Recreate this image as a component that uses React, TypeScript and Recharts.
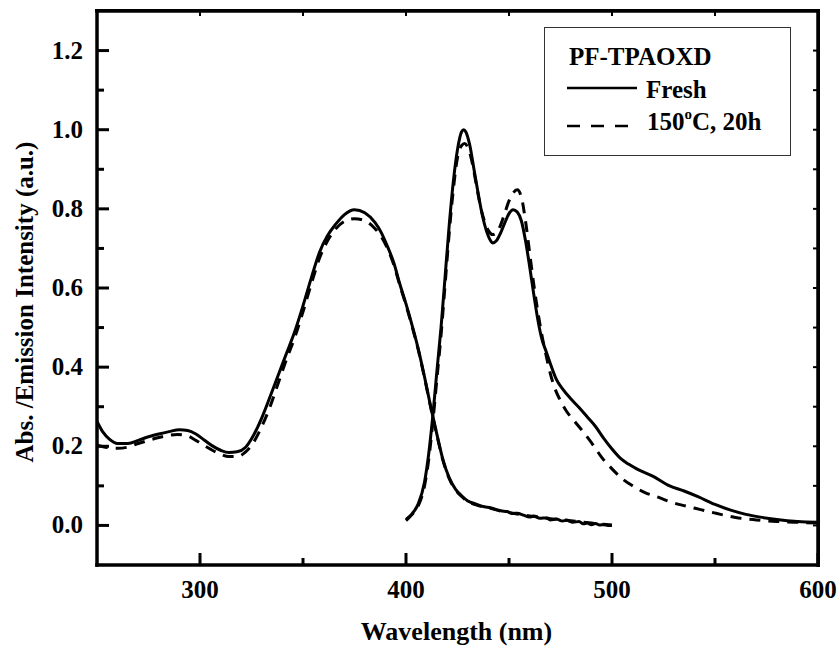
import { LineChart, Line, XAxis, YAxis } from 'recharts'

const FONT = '"Liberation Serif", "Times New Roman", serif'

// absorption, fresh film
const absFreshWl = [250, 253, 256, 260, 265, 270, 275, 280, 285, 290, 294, 298, 302, 306, 310, 314, 318, 322, 326, 330, 334, 338, 342, 346, 350, 354, 358, 362, 366, 370, 375, 380, 385, 388, 391, 394, 397, 400, 403, 406, 409, 412, 415, 418, 421, 424, 427, 430, 434, 438, 441, 444, 446, 449, 452, 454, 457, 460, 462, 465, 468, 470, 473, 476, 478, 481, 484, 486, 488, 490, 492, 494, 496, 498, 500]
const absFresh = [0.263, 0.235, 0.218, 0.207, 0.207, 0.215, 0.224, 0.231, 0.237, 0.242, 0.240, 0.231, 0.216, 0.201, 0.19, 0.184, 0.186, 0.197, 0.228, 0.272, 0.325, 0.38, 0.435, 0.49, 0.555, 0.625, 0.69, 0.733, 0.762, 0.785, 0.798, 0.79, 0.765, 0.74, 0.705, 0.665, 0.61, 0.56, 0.505, 0.445, 0.375, 0.3, 0.23, 0.165, 0.12, 0.092, 0.075, 0.062, 0.054, 0.047, 0.045, 0.04, 0.037, 0.035, 0.03, 0.031, 0.026, 0.021, 0.024, 0.018, 0.019, 0.014, 0.016, 0.011, 0.013, 0.008, 0.01, 0.004, 0.006, 0.002, 0.005, 0.001, 0.002, 0.0, 0.0]

// absorption, 150°C 20h
const absAgedWl = [250, 255, 260, 265, 270, 275, 280, 285, 289, 294, 298, 302, 306, 310, 314, 318, 322, 326, 330, 334, 338, 342, 346, 350, 354, 358, 362, 366, 370, 375, 380, 385, 388, 391, 394, 397, 400, 403, 406, 409, 412, 415, 418, 421, 424, 427, 430, 434, 438, 442, 446, 450, 455, 460, 465, 470, 475, 480, 485, 490, 495, 500]
const absAged = [0.203, 0.197, 0.195, 0.198, 0.207, 0.215, 0.222, 0.228, 0.23, 0.226, 0.215, 0.202, 0.19, 0.18, 0.174, 0.174, 0.185, 0.21, 0.25, 0.3, 0.36, 0.42, 0.475, 0.54, 0.61, 0.675, 0.72, 0.75, 0.768, 0.775, 0.77, 0.75, 0.73, 0.7, 0.66, 0.607, 0.557, 0.502, 0.443, 0.373, 0.298, 0.228, 0.163, 0.118, 0.09, 0.073, 0.06, 0.052, 0.046, 0.042, 0.036, 0.033, 0.028, 0.024, 0.021, 0.017, 0.015, 0.012, 0.009, 0.006, 0.003, 0.001]

// emission, fresh film
const emFreshWl = [400, 403, 406, 409, 411, 413, 415, 417, 419, 421, 423, 425, 427, 428, 429, 431, 433, 435, 437, 439, 441, 442, 444, 446, 448, 450, 452, 454, 456, 458, 460, 462, 464, 466, 468, 470, 473, 476, 480, 484, 488, 492, 496, 500, 504, 508, 512, 520, 528, 535, 542, 550, 558, 565, 572, 580, 590, 600]
const emFresh = [0.015, 0.03, 0.055, 0.11, 0.18, 0.276, 0.39, 0.5, 0.63, 0.76, 0.87, 0.95, 0.995, 1.0, 0.995, 0.96, 0.9, 0.84, 0.785, 0.745, 0.72, 0.714, 0.72, 0.74, 0.765, 0.788, 0.798, 0.792, 0.77, 0.72, 0.655, 0.585, 0.52, 0.47, 0.44, 0.41, 0.369, 0.345, 0.32, 0.298, 0.274, 0.25, 0.22, 0.193, 0.17, 0.155, 0.143, 0.124, 0.1, 0.087, 0.072, 0.053, 0.038, 0.028, 0.021, 0.015, 0.01, 0.008]

// emission, 150°C 20h
const emAgedWl = [400, 403, 406, 409, 411, 413, 415, 417, 419, 421, 423, 425, 427, 428.5, 430, 432, 434, 436, 438, 440, 442, 444, 446, 448, 450, 452, 454, 456, 458, 460, 462, 464, 466, 468, 470, 472, 475, 478, 482, 487, 491, 495, 500, 505, 510, 516, 522, 528, 535, 543, 551, 560, 570, 580, 592, 600]
const emAged = [0.012, 0.028, 0.05, 0.1, 0.165, 0.26, 0.37, 0.48, 0.61, 0.74, 0.85, 0.93, 0.96, 0.965, 0.955, 0.92, 0.865, 0.81, 0.77, 0.745, 0.735, 0.74, 0.76, 0.79, 0.82, 0.84, 0.848, 0.83, 0.77, 0.69, 0.61, 0.54, 0.48, 0.43, 0.385, 0.35, 0.315, 0.288, 0.262, 0.23, 0.202, 0.172, 0.143, 0.118, 0.1, 0.083, 0.072, 0.06, 0.05, 0.04, 0.03, 0.02, 0.014, 0.01, 0.0075, 0.006]

const xDomain = [250, 600]
const yDomain = [-0.1, 1.3]
const xMajor = [300, 400, 500, 600]
const xBottomTicks = [300, 350, 400, 450, 500, 550, 600]
const xTopTicks = [300, 350, 400, 450, 500, 550]
const yTicks = [0, 0.1, 0.2, 0.3, 0.4, 0.5, 0.6, 0.7, 0.8, 0.9, 1.0, 1.1, 1.2]

const legendTitle = 'PF-TPAOXD'
const xTitle = 'Wavelength (nm)'
const yTitle = 'Abs. /Emission Intensity (a.u.)'

// plot box
const W = 840, H = 653
const M = { top: 11, right: 22, bottom: 0, left: 0 }
const Y_AXIS_W = 97, X_AXIS_H = 88
const PL = M.left + Y_AXIS_W, PR = W - M.right, PT = M.top, PB = H - X_AXIS_H

const zip = (xs: number[], ys: number[]) => xs.map((x, i) => ({ x, y: ys[i] }))

const textStyle = { fontFamily: FONT, fontWeight: 700, fill: '#000' }
const frame = { stroke: '#000', strokeWidth: 3.5, strokeLinecap: 'square' as const }

const BottomTick = ({ x, y, payload }: any) => {
  const major = xMajor.includes(payload.value)
  const base = y - 33
  return (
    <g>
      <line x1={x} x2={x} y1={base} y2={base - (major ? 12 : 7)} stroke="#000" strokeWidth={3} />
      {major && (
        <text x={x} y={y} textAnchor="middle" fontSize={25} style={textStyle}>{payload.value}</text>
      )}
    </g>
  )
}

const LeftTick = ({ x, y, payload }: any) => {
  const major = Math.round(payload.value * 10) % 2 === 0
  const base = x + 14
  return (
    <g>
      <line x1={base} x2={base + (major ? 12 : 7)} y1={y} y2={y} stroke="#000" strokeWidth={3} />
      {major && (
        <text x={x} y={y + 8} textAnchor="end" fontSize={25} style={textStyle}>{payload.value.toFixed(1)}</text>
      )}
    </g>
  )
}

const XTitle = ({ viewBox }: any) => (
  <text x={viewBox.x + viewBox.width / 2 - 1} y={viewBox.y + 75} textAnchor="middle" fontSize={26} style={textStyle}>
    {xTitle}
  </text>
)

const YTitle = ({ viewBox }: any) => {
  const cx = viewBox.x + 33
  const cy = viewBox.y + viewBox.height / 2 + 14
  return (
    <text x={cx} y={cy} transform={`rotate(-90 ${cx} ${cy})`} textAnchor="middle" fontSize={25} style={textStyle}>
      {yTitle}
    </text>
  )
}

// top and right frame edges with their short inward ticks
const FrameTopRight = () => {
  const sx = (v: number) => PL + ((v - xDomain[0]) / (xDomain[1] - xDomain[0])) * (PR - PL)
  const sy = (v: number) => PT + ((yDomain[1] - v) / (yDomain[1] - yDomain[0])) * (PB - PT)
  return (
    <>
      <div
        style={{
          position: 'absolute',
          left: PL - 2,
          top: PT - 2,
          width: PR - PL + 4,
          height: PB - PT + 4,
          boxSizing: 'border-box',
          borderTop: '3.5px solid #000',
          borderRight: '3.5px solid #000',
          pointerEvents: 'none',
          zIndex: 10,
        }}
      />
      <svg width={W} height={H} style={{ position: 'absolute', left: 0, top: 0, pointerEvents: 'none', zIndex: 11 }}>
        <line x1={PL} x2={PR} y1={PT} y2={PT} {...frame} />
        <line x1={PR} x2={PR} y1={PT} y2={PB} {...frame} />
        {xTopTicks.map((v) => (
          <line key={`t${v}`} x1={sx(v)} x2={sx(v)} y1={PT} y2={PT + 5} stroke="#000" strokeWidth={2} />
        ))}
        {yTicks.map((v) => (
          <line key={`r${v}`} x1={PR} x2={PR - 5} y1={sy(v)} y2={sy(v)} stroke="#000" strokeWidth={2} />
        ))}
      </svg>
    </>
  )
}

const LegendBox = () => (
  <svg width={248} height={130} style={{ position: 'absolute', left: 544, top: 27, display: 'block', zIndex: 12 }}>
    <rect x={0.5} y={0.5} width={246} height={128} fill="#fff" stroke="#333" strokeWidth={1} />
    <text x={25} y={38} fontSize={25} style={textStyle}>{legendTitle}</text>
    <line x1={23} x2={93} y1={61} y2={61} stroke="#000" strokeWidth={2.5} />
    <text x={102} y={71} fontSize={25} style={textStyle}>Fresh</text>
    <line x1={23} x2={84} y1={99} y2={99} stroke="#000" strokeWidth={2.5} strokeDasharray="13 11" />
    <text x={103} y={103} fontSize={25} style={textStyle}>
      150<tspan fontSize={15} dy={-11}>o</tspan><tspan dy={11}>C, 20h</tspan>
    </text>
  </svg>
)

const lineProps = { dataKey: 'y', type: 'monotone' as const, stroke: '#000', strokeWidth: 3, dot: false, isAnimationActive: false }

export default function App() {
  return (
    <div style={{ position: 'absolute', left: 0, top: 0, width: W, height: H, background: '#fff' }}>
      <LineChart width={W} height={H} margin={M}>
        <XAxis
          dataKey="x"
          type="number"
          domain={xDomain}
          allowDataOverflow
          ticks={xBottomTicks}
          interval={0}
          height={X_AXIS_H}
          tickSize={0}
          tickMargin={33}
          tickLine={false}
          tick={<BottomTick />}
          axisLine={frame}
          label={<XTitle />}
        />
        <YAxis
          type="number"
          domain={yDomain}
          allowDataOverflow
          ticks={yTicks}
          interval={0}
          width={Y_AXIS_W}
          tickSize={0}
          tickMargin={14}
          tickLine={false}
          tick={<LeftTick />}
          axisLine={frame}
          label={<YTitle />}
        />
        <Line {...lineProps} data={zip(absAgedWl, absAged)} name="150°C, 20h" strokeDasharray="11 8" />
        <Line {...lineProps} data={zip(emAgedWl, emAged)} name="150°C, 20h (PL)" strokeDasharray="11 8" />
        <Line {...lineProps} data={zip(absFreshWl, absFresh)} name="Fresh" />
        <Line {...lineProps} data={zip(emFreshWl, emFresh)} name="Fresh (PL)" />
      </LineChart>
      <FrameTopRight />
      <LegendBox />
    </div>
  )
}
